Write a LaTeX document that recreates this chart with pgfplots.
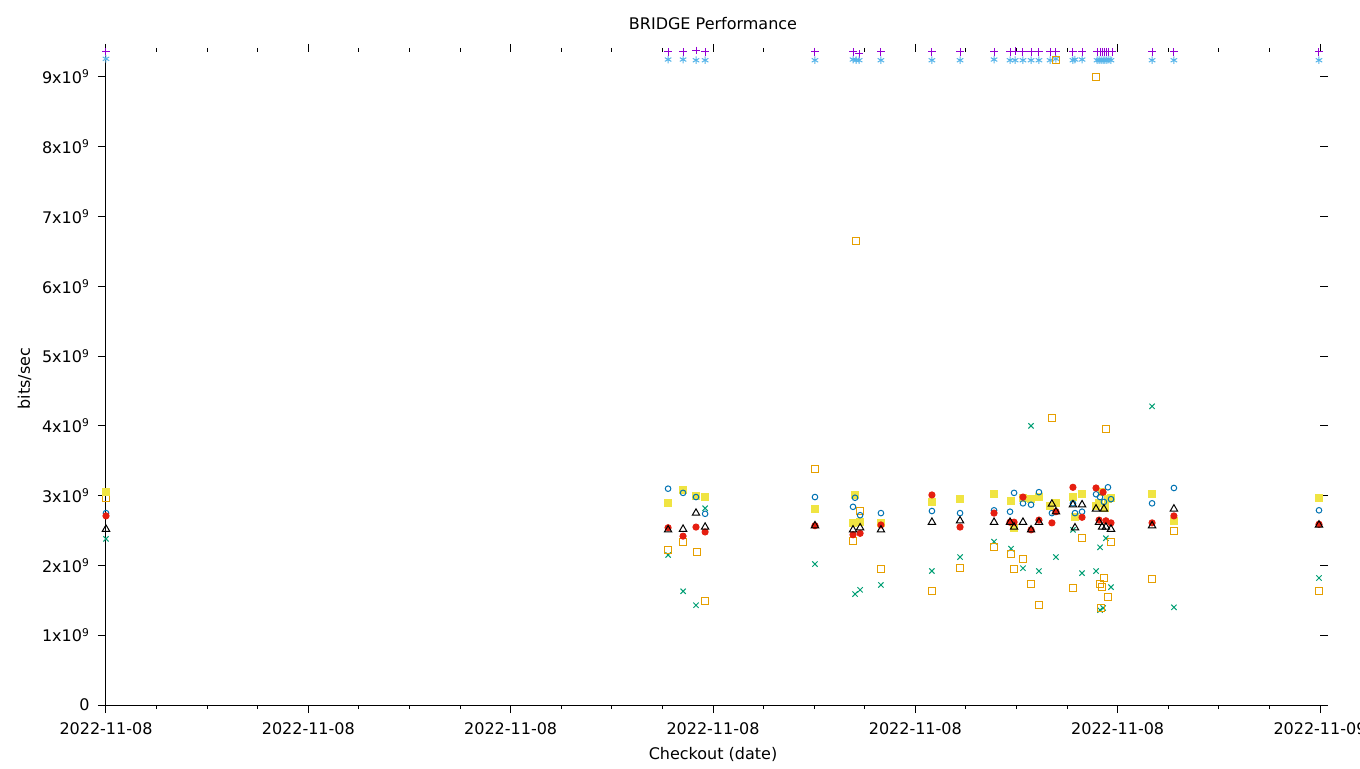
\documentclass[border=0pt]{standalone}
\usepackage{fontspec}
\setmainfont{DejaVu Sans}
\usepackage{pgfplots}
\pgfplotsset{compat=1.18}
\definecolor{gpPurple}{HTML}{9400D3}
\definecolor{gpGreen}{HTML}{009E73}
\definecolor{gpLBlue}{HTML}{56B4E9}
\definecolor{gpOrange}{HTML}{E69F00}
\definecolor{gpYellow}{HTML}{F0E442}
\definecolor{gpBlue}{HTML}{0072B2}
\definecolor{gpRed}{HTML}{E51E10}
\begin{document}
\fontsize{12pt}{14.4pt}\selectfont
\begin{tikzpicture}
\useasboundingbox (0,0) rectangle (1020pt,576pt);
\begin{axis}[
  at={(79.5pt,47.25pt)}, anchor=south west,
  scale only axis, width=910.5pt, height=489.75pt,
  xmin=0, xmax=6, ymin=0, ymax=9.358,
  xtick={0,1,2,3,4,5,6},
  xticklabels={2022-11-08,2022-11-08,2022-11-08,2022-11-08,2022-11-08,2022-11-08,2022-11-09},
  minor x tick num=3,
  ytick={0,1,2,3,4,5,6,7,8,9},
  yticklabels={0,1x10\textsuperscript{9},2x10\textsuperscript{9},3x10\textsuperscript{9},4x10\textsuperscript{9},5x10\textsuperscript{9},6x10\textsuperscript{9},7x10\textsuperscript{9},8x10\textsuperscript{9},9x10\textsuperscript{9}},
  xticklabel style={yshift=-3pt},
  yticklabel style={xshift=-2.2pt},
  tick align=outside, major tick length=6pt, minor tick length=3pt,
  every tick/.style={black, line width=0.75pt},
  separate axis lines,
  axis line style={draw=none},
  clip=false,
  only marks,
  every axis plot/.append style={line width=0.75pt},
  title={BRIDGE Performance},
  title style={at={(0.5,1)}, anchor=base, yshift=10.5pt},
  xlabel={Checkout (date)},
  xlabel style={at={(0.5,0)}, anchor=base, yshift=-41pt},
  ylabel={bits/sec},
  ylabel style={at={(axis description cs:-0.0626,0.5)}, anchor=base},
]
\addplot[gpPurple, mark=+, mark size=2.8pt] coordinates {
(0,9.36)(2.778,9.36)(2.852,9.36)(2.916,9.38)(2.961,9.36)(3.504,9.36)(3.692,9.36)(3.722,9.33)(3.830,9.36)(4.082,9.36)(4.221,9.36)(4.389,9.36)(4.468,9.36)(4.493,9.37)(4.532,9.36)(4.572,9.36)(4.611,9.36)(4.666,9.36)(4.695,9.36)(4.779,9.36)(4.824,9.36)(4.898,9.36)(4.913,9.36)(4.923,9.36)(4.937,9.36)(4.947,9.36)(4.957,9.36)(4.972,9.36)(5.170,9.36)(5.278,9.36)(5.995,9.36)
};
\addplot[gpGreen, mark=x, mark size=2.8pt] coordinates {
(0,2.38)(2.778,2.15)(2.852,1.63)(2.916,1.43)(2.961,2.82)(3.504,2.02)(3.702,1.59)(3.727,1.65)(3.830,1.72)(4.082,1.92)(4.221,2.12)(4.389,2.34)(4.473,2.24)(4.532,1.96)(4.572,4.00)(4.611,1.92)(4.695,2.12)(4.779,2.51)(4.824,1.89)(4.893,1.92)(4.913,2.26)(4.913,1.36)(4.928,1.39)(4.942,2.39)(4.967,1.69)(5.170,4.28)(5.278,1.40)(5.995,1.82)
};
\addplot[gpLBlue, mark=asterisk, mark size=2.8pt] coordinates {
(0,9.26)(2.778,9.25)(2.852,9.25)(2.916,9.24)(2.961,9.24)(3.504,9.24)(3.692,9.25)(3.707,9.24)(3.722,9.24)(3.830,9.24)(4.082,9.24)(4.221,9.24)(4.389,9.25)(4.468,9.24)(4.493,9.24)(4.532,9.24)(4.572,9.24)(4.611,9.24)(4.666,9.24)(4.695,9.26)(4.779,9.24)(4.789,9.25)(4.824,9.25)(4.898,9.24)(4.908,9.24)(4.918,9.24)(4.928,9.24)(4.937,9.24)(4.947,9.24)(4.957,9.25)(4.967,9.24)(5.170,9.24)(5.278,9.24)(5.995,9.24)
};
\addplot[gpOrange, mark=square, mark size=2.6pt] coordinates {
(0,2.97)(2.778,2.22)(2.852,2.34)(2.921,2.19)(2.961,1.49)(3.504,3.38)(3.692,2.35)(3.707,6.65)(3.727,2.78)(3.830,1.95)(4.082,1.63)(4.221,1.96)(4.389,2.26)(4.473,2.16)(4.488,1.95)(4.532,2.09)(4.572,1.73)(4.611,1.43)(4.675,4.11)(4.695,9.25)(4.779,1.68)(4.824,2.39)(4.893,9.00)(4.913,1.73)(4.918,1.39)(4.923,1.69)(4.932,1.82)(4.942,3.96)(4.952,1.55)(4.967,2.34)(5.170,1.81)(5.278,2.49)(5.995,1.63)
};
\addplot[gpYellow, mark=square*, mark size=2.7pt, mark options={draw=gpYellow, fill=gpYellow}] coordinates {
(0,3.05)(2.778,2.89)(2.852,3.08)(2.916,3.00)(2.961,2.98)(3.504,2.81)(3.702,3.01)(3.692,2.61)(3.727,2.62)(3.830,2.61)(4.082,2.91)(4.221,2.95)(4.389,3.02)(4.473,2.92)(4.488,2.54)(4.532,2.97)(4.572,2.95)(4.611,2.98)(4.666,2.85)(4.695,2.89)(4.779,2.98)(4.789,2.69)(4.824,3.02)(4.893,2.85)(4.908,2.90)(4.923,3.05)(4.937,2.83)(4.952,2.95)(4.967,2.97)(5.170,3.02)(5.278,2.64)(5.995,2.97)
};
\addplot[gpBlue, mark=o, mark size=2.1pt] coordinates {
(0,2.75)(2.778,3.10)(2.852,3.04)(2.916,2.98)(2.961,2.74)(3.504,2.98)(3.702,2.97)(3.692,2.84)(3.727,2.72)(3.830,2.75)(4.082,2.78)(4.221,2.75)(4.389,2.79)(4.468,2.77)(4.488,3.04)(4.532,2.89)(4.572,2.87)(4.611,3.05)(4.675,2.75)(4.779,2.89)(4.789,2.75)(4.824,2.77)(4.893,3.02)(4.913,2.98)(4.932,2.91)(4.952,3.12)(4.967,2.95)(5.170,2.89)(5.278,3.11)(5.995,2.79)
};
\addplot[gpRed, mark=*, mark size=2.3pt, mark options={draw=gpRed, fill=gpRed}] coordinates {
(0,2.71)(2.778,2.54)(2.852,2.42)(2.916,2.55)(2.961,2.48)(3.504,2.57)(3.692,2.44)(3.727,2.46)(3.830,2.58)(4.082,3.01)(4.221,2.55)(4.389,2.75)(4.468,2.62)(4.488,2.62)(4.532,2.98)(4.572,2.51)(4.611,2.65)(4.675,2.61)(4.695,2.77)(4.779,3.12)(4.824,2.69)(4.893,3.11)(4.928,3.05)(4.908,2.65)(4.942,2.64)(4.967,2.61)(5.170,2.61)(5.278,2.71)(5.995,2.59)
};
\addplot[black, mark=triangle, mark size=3.2pt] coordinates {
(0,2.52)(2.778,2.51)(2.852,2.52)(2.916,2.75)(2.961,2.55)(3.504,2.57)(3.692,2.51)(3.727,2.54)(3.830,2.51)(4.082,2.62)(4.221,2.64)(4.389,2.62)(4.468,2.62)(4.488,2.55)(4.532,2.62)(4.572,2.51)(4.611,2.62)(4.675,2.88)(4.695,2.77)(4.779,2.87)(4.789,2.54)(4.824,2.87)(4.893,2.81)(4.908,2.62)(4.923,2.55)(4.932,2.81)(4.942,2.55)(4.967,2.52)(5.170,2.57)(5.278,2.81)(5.995,2.58)
};
\draw[black, line width=0.75pt] (rel axis cs:0,1) -- (rel axis cs:0,0) -- (rel axis cs:1,0);
\end{axis}
\end{tikzpicture}
\end{document}
